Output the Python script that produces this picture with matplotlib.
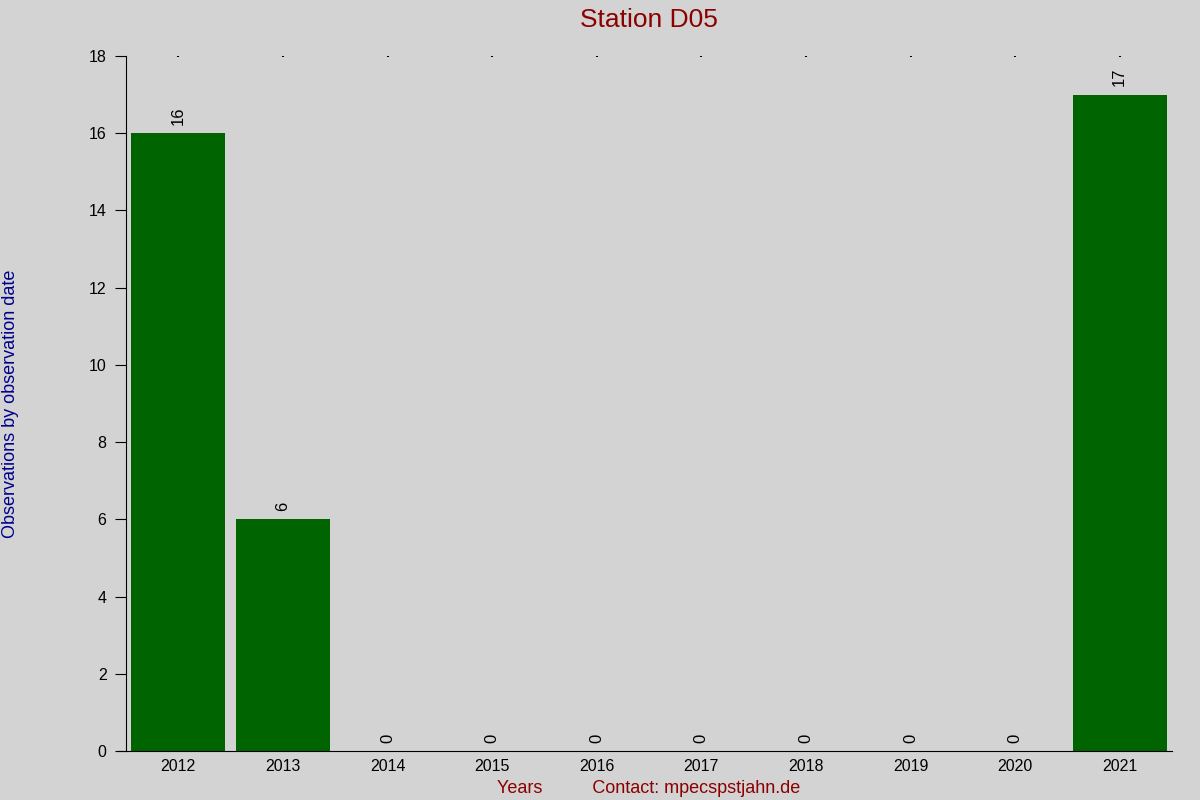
import matplotlib
matplotlib.use("Agg")
import matplotlib.pyplot as plt

years = ["2012", "2013", "2014", "2015", "2016", "2017", "2018", "2019", "2020", "2021"]
counts = [16, 6, 0, 0, 0, 0, 0, 0, 0, 17]
yticks = [0, 2, 4, 6, 8, 10, 12, 14, 16, 18]

bg = "#d3d3d3"
plt.rcParams["font.family"] = ["Liberation Sans", "DejaVu Sans"]

fig = plt.figure(figsize=(12, 8), dpi=100, facecolor=bg)
ax = fig.add_axes([0.105, 0.06125, 0.8717, 0.86875], facecolor=bg)

x = list(range(len(years)))
bars = ax.bar(x, counts, width=0.9, color="#006400")

for xi, c in zip(x, counts):
    ax.annotate(str(c), (xi, c), xytext=(0, 6), textcoords="offset points",
                rotation=90, ha="center", va="bottom", fontsize=12)

ax.set_xlim(-0.5, len(years) - 0.5)
ax.set_ylim(0, 18)
ax.set_yticks(yticks)
ax.set_xticks(x)
ax.set_xticklabels(years)

ax.spines["top"].set_visible(False)
ax.spines["right"].set_visible(False)
ax.spines["bottom"].set_bounds(-0.575, len(years) - 0.5)

ax.tick_params(axis="y", direction="out", length=8, labelsize=11.5, pad=6)
ax.tick_params(axis="x", bottom=False, top=True, direction="in", length=1,
               width=1.5, labelsize=11.5, pad=6)

ax.set_title("Station D05", color="#8b0000", fontsize=19, pad=21)
ax.set_xlabel("Years          Contact: mpecspstjahn.de", color="#8b0000",
              fontsize=13, labelpad=4)
ax.set_ylabel("Observations by observation date", color="#00008b",
              fontsize=13, labelpad=50)

fig.savefig("out.png", dpi=100, facecolor=bg)
